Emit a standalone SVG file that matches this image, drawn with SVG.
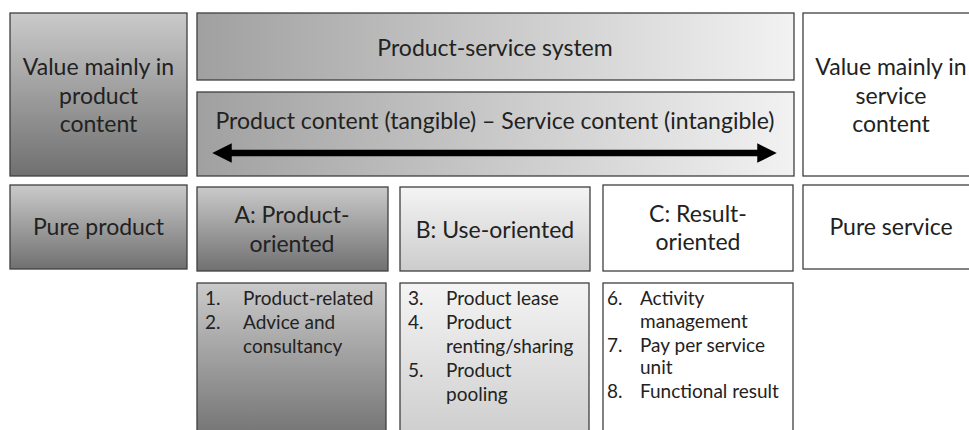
<svg xmlns="http://www.w3.org/2000/svg" width="969" height="430" viewBox="0 0 969 430">
  <defs>
    <linearGradient id="gDarkV" x1="0" y1="0" x2="0" y2="1">
      <stop offset="0" stop-color="#cacaca"/>
      <stop offset="1" stop-color="#707070"/>
    </linearGradient>
    <linearGradient id="gLightV" x1="0" y1="0" x2="0" y2="1">
      <stop offset="0" stop-color="#f4f4f4"/>
      <stop offset="1" stop-color="#cccccc"/>
    </linearGradient>
    <linearGradient id="gBand" x1="0" y1="0" x2="1" y2="0">
      <stop offset="0" stop-color="#a0a0a0"/>
      <stop offset="1" stop-color="#f2f2f2"/>
    </linearGradient>
    <marker id="head" viewBox="0 0 10 10" refX="5" refY="5" markerWidth="3" markerHeight="3" orient="auto-start-reverse" markerUnits="strokeWidth">
      <path d="M0,0 L10,5 L0,10 Z" fill="#000"/>
    </marker>
  </defs>
  <style>
    .box { stroke: #3f3f3f; stroke-width: 1.3; }
    .t { font-family: Lato, "Open Sans", "Liberation Sans", sans-serif; fill: #222; text-anchor: middle; font-size: 23px; }
    .l { font-family: Lato, "Open Sans", "Liberation Sans", sans-serif; fill: #222; font-size: 19px; }
  </style>

  <rect width="969" height="430" fill="#fff"/>

  <!-- top row -->
  <g id="value-product">
    <rect class="box" x="10" y="13" width="177" height="163" fill="url(#gDarkV)"/>
    <text class="t" x="98.5" y="75">Value mainly in</text>
    <text class="t" x="98.5" y="104">product</text>
    <text class="t" x="98.5" y="132">content</text>
  </g>
  <g id="pss">
    <rect class="box" x="197" y="13" width="597" height="67" fill="url(#gBand)"/>
    <text class="t" x="495" y="56">Product-service system</text>
  </g>
  <g id="content-scale">
    <rect class="box" x="197" y="92" width="597" height="84" fill="url(#gBand)"/>
    <text class="t" x="495" y="129">Product content (tangible) – Service content (intangible)</text>
  </g>
  <g id="value-service">
    <rect class="box" x="803" y="13" width="177" height="163" fill="#fff"/>
    <text class="t" x="891" y="75">Value mainly in</text>
    <text class="t" x="891" y="104">service</text>
    <text class="t" x="891" y="132">content</text>
  </g>

  <!-- middle row -->
  <g id="pure-product">
    <rect class="box" x="10" y="185" width="177" height="84" fill="url(#gDarkV)"/>
    <text class="t" x="98.5" y="235">Pure product</text>
  </g>
  <g id="a-product-oriented">
    <rect class="box" x="197" y="187" width="191" height="84" fill="url(#gDarkV)"/>
    <text class="t" x="292" y="223">A: Product-</text>
    <text class="t" x="292" y="252">oriented</text>
  </g>
  <g id="b-use-oriented">
    <rect class="box" x="400" y="187" width="190" height="84" fill="url(#gLightV)"/>
    <text class="t" x="495" y="238">B: Use-oriented</text>
  </g>
  <g id="c-result-oriented">
    <rect class="box" x="603" y="185" width="190" height="86" fill="#fff"/>
    <text class="t" x="698" y="222">C: Result-</text>
    <text class="t" x="698" y="250">oriented</text>
  </g>
  <g id="pure-service">
    <rect class="box" x="803" y="185" width="177" height="84" fill="#fff"/>
    <text class="t" x="891" y="235">Pure service</text>
  </g>

  <!-- bottom row: service types -->
  <g id="list-a">
    <rect class="box" x="197" y="283" width="189" height="160" fill="url(#gDarkV)"/>
    <text class="l" x="205" y="305">1.</text><text class="l" x="243" y="305">Product-related</text>
    <text class="l" x="205" y="329">2.</text><text class="l" x="243" y="329">Advice and</text>
    <text class="l" x="243" y="353">consultancy</text>
  </g>
  <g id="list-b">
    <rect class="box" x="400" y="283" width="189" height="160" fill="url(#gLightV)"/>
    <text class="l" x="408" y="305">3.</text><text class="l" x="446" y="305">Product lease</text>
    <text class="l" x="408" y="329">4.</text><text class="l" x="446" y="329">Product</text>
    <text class="l" x="446" y="353">renting/sharing</text>
    <text class="l" x="408" y="377">5.</text><text class="l" x="446" y="377">Product</text>
    <text class="l" x="446" y="401">pooling</text>
  </g>
  <g id="list-c">
    <rect class="box" x="603" y="283" width="190" height="160" fill="#fff"/>
    <text class="l" x="607" y="305">6.</text><text class="l" x="640" y="305">Activity</text>
    <text class="l" x="640" y="328">management</text>
    <text class="l" x="607" y="352">7.</text><text class="l" x="640" y="352">Pay per service</text>
    <text class="l" x="640" y="374">unit</text>
    <text class="l" x="607" y="398">8.</text><text class="l" x="640" y="398">Functional result</text>
  </g>

  <!-- connectors -->
  <g id="connectors">
    <line x1="222" y1="153" x2="767" y2="153" stroke="#000" stroke-width="6.5" marker-start="url(#head)" marker-end="url(#head)"/>
  </g>
</svg>
